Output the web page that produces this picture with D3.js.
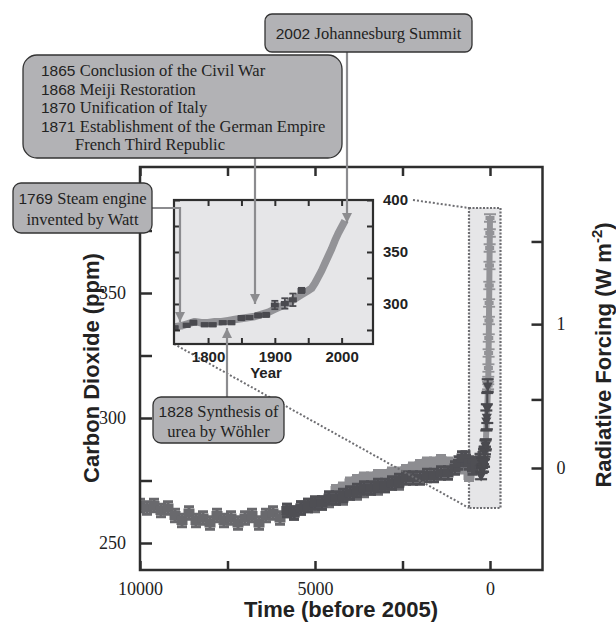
<!DOCTYPE html>
<html>
<head>
<meta charset="utf-8">
<script src="https://cdn.jsdelivr.net/npm/d3@7"></script>
<style>
  body { margin: 0; background: #fff; }
  text { fill: #222; }
</style>
</head>
<body>
<div id="chart"></div>
<script>
// ---- data ----
// Ice core record A (years before 2005, ppm)
const coreAYears = [10000, 9800, 9600, 9400, 9200, 9000, 8800, 8600, 8400, 8200, 8000, 7800, 7600, 7400, 7200, 7000,
  6800, 6600, 6400, 6200, 6000, 5800, 5600, 5400, 5200, 5000, 4800, 4600, 4400, 4200, 4000, 3800, 3600, 3400, 3200, 3000, 2800, 2600];
const coreACO2 = [265, 264, 265, 263, 264, 261, 259, 262, 259, 260, 258, 261, 259, 260, 258, 260,
  261, 258, 261, 262, 260, 263, 262, 264, 265, 265, 266, 267, 268, 268, 270, 270, 271, 272, 272, 273, 274, 274];
// Ice core record B (darker)
const coreBYears = [5800, 5600, 5400, 5200, 5000, 4800, 4600, 4400, 4200, 4000, 3800, 3600, 3400, 3200, 3000, 2800, 2600,
  2400, 2200, 2000, 1800, 1600, 1400, 1200, 1000, 900, 800, 700, 600, 500, 400, 300, 200];
const coreBCO2 = [263, 262, 264, 265, 266, 266, 268, 268, 269, 270, 271, 272, 272, 273, 273, 274, 275,
  276, 276, 276, 277, 277, 278, 278, 280, 282, 284, 284, 282, 280, 281, 283, 285];
// Ice core record C (light)
const coreCYears = [4400, 4200, 4000, 3800, 3600, 3400, 3200, 3000, 2800, 2600, 2400, 2200, 2000, 1800, 1600, 1400, 1200, 1000, 800, 600];
const coreCCO2 = [271, 272, 274, 275, 276, 276, 277, 277, 278, 278, 279, 280, 281, 282, 282, 283, 282, 281, 280, 277];

// Recent record, calendar years (light band)
const recentYears = [1750, 1760, 1770, 1780, 1790, 1800, 1810, 1820, 1830, 1840, 1850, 1860, 1870, 1880, 1890, 1900,
  1910, 1920, 1930, 1940, 1945, 1950, 1955, 1960, 1965, 1970, 1975, 1980, 1985, 1990, 1995, 2000, 2005];
const recentCO2 = [278, 279, 281, 283, 282, 282, 283, 283, 284, 285, 286, 287, 288, 290, 292, 295,
  298, 301, 305, 309, 311, 313, 315, 320, 326, 332, 339, 346, 353, 361, 368, 374, 380];

// Recent ice core samples with error bars (dark)
const sampleYears = [1750, 1768, 1778, 1795, 1807, 1822, 1835, 1850, 1862, 1875, 1887, 1900, 1915, 1927, 1940];
const sampleCO2 = [277, 279.5, 282, 280, 280, 282, 282, 286.5, 287, 289, 289.5, 299, 300.5, 304, 313];
const sampleErr = [1.5, 1.5, 2, 1.5, 1.5, 1.5, 1.5, 2, 1.5, 2, 2, 4, 5, 6, 2.5];

// Axis ticks
const timeTicks = [10000, 7500, 5000, 2500, 0];
const timeLabels = [10000, 5000, 0];
const co2Ticks = [250, 275, 300, 325, 350, 375];
const co2Labels = [250, 300, 350];
const rfTicks = [0, 0.5, 1, 1.5];
const rfLabels = [0, 1];
const yearTicks = [1800, 1850, 1900, 1950, 2000];
const yearLabels = [1800, 1900, 2000];
const insetTicks = [275, 300, 325, 350, 375, 400];
const insetLabels = [300, 350, 400];

// Events
const eventBig = [["1865", "Conclusion of the Civil War"], ["1868", "Meiji Restoration"], ["1870", "Unification of Italy"],
  ["1871", "Establishment of the German Empire"], ["", "French Third Republic"]];

const REF_YEAR = 2005;
const C0 = 280;
const rfToCO2 = rf => C0 * Math.exp(rf / 5.35);

// ---- layout ----
const W = 616, H = 624;
const SERIF = "'Liberation Serif', 'Times New Roman', serif";
const SANS = "'Liberation Sans', Arial, sans-serif";
const INK = "#2e2e2e";
const ARROW = "#8c8c8f";

const svg = d3.select("#chart").append("svg")
  .attr("width", W).attr("height", H);

const defs = svg.append("defs");
defs.append("marker")
  .attr("id", "head")
  .attr("viewBox", "0 0 10 10")
  .attr("refX", 10).attr("refY", 5)
  .attr("markerWidth", 10).attr("markerHeight", 10)
  .attr("markerUnits", "userSpaceOnUse")
  .attr("orient", "auto")
  .append("path")
  .attr("d", "M0,0 L10,5 L0,10 Z")
  .attr("fill", ARROW);

const plot = { left: 140, right: 542.5, top: 167, bottom: 570 };
defs.append("clipPath").attr("id", "mainClip").append("rect")
  .attr("x", plot.left).attr("y", plot.top)
  .attr("width", plot.right - plot.left).attr("height", plot.bottom - plot.top);

const x = d3.scaleLinear().domain([10000, -1500]).range([plot.left, plot.right]);
const y = d3.scaleLinear().domain([239.2, 400.4]).range([plot.bottom, plot.top]);

// error-bar marks
function errorMarks(g, pts, o) {
  const grp = g.append("g").attr("stroke", o.color).attr("fill", o.color);
  const p = grp.selectAll("g").data(pts).join("g")
    .attr("transform", d => `translate(${o.x(d.t)},0)`);
  p.append("line")
    .attr("y1", d => o.y(d.c - d.e)).attr("y2", d => o.y(d.c + d.e))
    .attr("stroke-width", o.sw);
  [-1, 1].forEach(s => {
    p.append("line")
      .attr("x1", -o.cap / 2).attr("x2", o.cap / 2)
      .attr("y1", d => o.y(d.c + s * d.e)).attr("y2", d => o.y(d.c + s * d.e))
      .attr("stroke-width", o.sw);
  });
  if (o.shape === "tri") {
    p.append("path")
      .attr("transform", d => `translate(0,${o.y(d.c)}) rotate(180)`)
      .attr("d", d3.symbol(d3.symbolTriangle, o.size))
      .attr("stroke", "none");
  } else {
    p.append("rect")
      .attr("x", -o.w / 2).attr("width", o.w)
      .attr("y", d => o.y(d.c) - o.h / 2).attr("height", o.h)
      .attr("stroke", "none");
  }
}

const zip = (ts, cs, e) => ts.map((t, i) => ({ t, c: cs[i], e: Array.isArray(e) ? e[i] : e }));

// ---- zoom box in main plot ----
const box = { t0: 600, t1: -300, c0: 264, c1: 384 };
svg.append("rect")
  .attr("x", x(box.t0)).attr("y", y(box.c1))
  .attr("width", x(box.t1) - x(box.t0)).attr("height", y(box.c0) - y(box.c1))
  .attr("fill", "#e6e6e8")
  .attr("stroke", "#6e6e72").attr("stroke-width", 2.2)
  .attr("stroke-dasharray", "2,1.5");

// ---- main data ----
const main = svg.append("g").attr("clip-path", "url(#mainClip)");
const mainOpts = { x, y, sw: 3, cap: 10, w: 11, h: 9 };
errorMarks(main, zip(coreAYears, coreACO2, 2.5), { ...mainOpts, color: "#69696d" });
errorMarks(main, zip(coreCYears, coreCCO2, 2), { ...mainOpts, color: "#8d8d91" });
errorMarks(main, zip(coreBYears, coreBCO2, 2.5), { ...mainOpts, color: "#4f4f54" });

const recentT = recentYears.map(yr => REF_YEAR - yr);
main.append("path")
  .datum(zip(recentT, recentCO2, 0))
  .attr("d", d3.line().x(d => x(d.t)).y(d => y(d.c)))
  .attr("fill", "none").attr("stroke", "#939397").attr("stroke-width", 6)
  .attr("stroke-linejoin", "round");
errorMarks(main, zip(recentT, recentCO2, 1.5).filter(d => d.t <= 55),
  { ...mainOpts, color: "#939397", cap: 12, w: 9, h: 4, sw: 1.8 });
errorMarks(main, zip(sampleYears.map(yr => REF_YEAR - yr), sampleCO2, sampleErr),
  { ...mainOpts, color: "#4a4a4f", cap: 12, sw: 2.2, shape: "tri", size: 45 });

// ---- main frame and axes ----
svg.append("rect")
  .attr("x", plot.left).attr("y", plot.top)
  .attr("width", plot.right - plot.left).attr("height", plot.bottom - plot.top)
  .attr("fill", "none").attr("stroke", INK).attr("stroke-width", 2.5);

function styleAxis(g, font, size, weight) {
  g.select(".domain").remove();
  g.selectAll(".tick line").attr("stroke", INK).attr("stroke-width", 2.5);
  g.selectAll(".tick text").attr("font-family", font).attr("font-size", size)
    .attr("font-weight", weight || "normal").attr("fill", "#222");
}

svg.append("g").attr("transform", `translate(0,${plot.bottom})`)
  .call(d3.axisBottom(x).tickValues(timeTicks).tickSize(-9).tickPadding(12)
    .tickFormat(d => timeLabels.includes(d) ? d : ""))
  .call(g => styleAxis(g, SERIF, 18));
svg.append("g").attr("transform", `translate(0,${plot.top})`)
  .call(d3.axisTop(x).tickValues(timeTicks).tickSize(-9).tickFormat(""))
  .call(g => styleAxis(g, SERIF, 18));
svg.append("g").attr("transform", `translate(${plot.left},0)`)
  .call(d3.axisLeft(y).tickValues(co2Ticks).tickSize(-12).tickPadding(14)
    .tickFormat(d => co2Labels.includes(d) ? d : ""))
  .call(g => styleAxis(g, SERIF, 18));
svg.append("g").attr("transform", `translate(${plot.right},0)`)
  .call(d3.axisRight(y).tickValues(rfTicks.map(rfToCO2)).tickSize(-11).tickPadding(14)
    .tickFormat((d, i) => rfLabels.includes(rfTicks[i]) ? rfTicks[i] : ""))
  .call(g => styleAxis(g, SERIF, 18));

svg.append("text")
  .attr("x", 341).attr("y", 617)
  .attr("text-anchor", "middle")
  .attr("font-family", SANS).attr("font-weight", "bold").attr("font-size", 22)
  .text("Time (before 2005)");
svg.append("text")
  .attr("transform", "translate(99,368) rotate(-90)")
  .attr("text-anchor", "middle")
  .attr("font-family", SANS).attr("font-weight", "bold").attr("font-size", 22)
  .text("Carbon Dioxide (ppm)");
const rfTitle = svg.append("text")
  .attr("transform", "translate(611,355) rotate(-90)")
  .attr("text-anchor", "middle")
  .attr("font-family", SANS).attr("font-weight", "bold").attr("font-size", 22);
rfTitle.append("tspan").text("Radiative Forcing (W m");
rfTitle.append("tspan").attr("font-size", 15).attr("dy", -9).text("-2");
rfTitle.append("tspan").attr("dy", 9).text(")");

// ---- inset ----
const inset = { left: 174, right: 373, top: 200, bottom: 344 };
const xi = d3.scaleLinear().domain([1749, 2047]).range([inset.left, inset.right]);
const yi = d3.scaleLinear().domain([261.5, 400]).range([inset.bottom, inset.top]);

// dotted lines linking the zoom box to the inset
const dotted = svg.append("g").attr("stroke", "#6e6e72").attr("stroke-width", 2)
  .attr("stroke-dasharray", "2,2");
dotted.append("line")
  .attr("x1", 413).attr("y1", inset.top)
  .attr("x2", x(box.t0)).attr("y2", y(box.c1));
dotted.append("line")
  .attr("x1", inset.left).attr("y1", inset.bottom)
  .attr("x2", x(box.t0)).attr("y2", y(box.c0));

defs.append("clipPath").attr("id", "insetClip").append("rect")
  .attr("x", inset.left).attr("y", inset.top)
  .attr("width", inset.right - inset.left).attr("height", inset.bottom - inset.top);

svg.append("rect")
  .attr("x", inset.left).attr("y", inset.top)
  .attr("width", inset.right - inset.left).attr("height", inset.bottom - inset.top)
  .attr("fill", "#e6e6e8");

const ig = svg.append("g").attr("clip-path", "url(#insetClip)");
ig.append("path")
  .datum(zip(recentYears, recentCO2, 0))
  .attr("d", d3.line().x(d => xi(d.t)).y(d => yi(d.c)))
  .attr("fill", "none").attr("stroke", "#939397").attr("stroke-width", 7.5)
  .attr("stroke-linejoin", "round");
errorMarks(ig, zip(sampleYears, sampleCO2, sampleErr),
  { x: xi, y: yi, color: "#4a4a4f", sw: 1.8, cap: 7, w: 8, h: 5 });

svg.append("rect")
  .attr("x", inset.left).attr("y", inset.top)
  .attr("width", inset.right - inset.left).attr("height", inset.bottom - inset.top)
  .attr("fill", "none").attr("stroke", INK).attr("stroke-width", 2.2);

function styleInset(g) {
  g.select(".domain").remove();
  g.selectAll(".tick line").attr("stroke", INK).attr("stroke-width", 2);
  g.selectAll(".tick text").attr("font-family", SANS).attr("font-weight", "bold")
    .attr("font-size", 15).attr("fill", "#222");
}
svg.append("g").attr("transform", `translate(0,${inset.bottom})`)
  .call(d3.axisBottom(xi).tickValues(yearTicks).tickSize(-6).tickPadding(7)
    .tickFormat(d => yearLabels.includes(d) ? d : ""))
  .call(styleInset);
svg.append("g").attr("transform", `translate(0,${inset.top})`)
  .call(d3.axisTop(xi).tickValues(yearTicks).tickSize(-6).tickFormat(""))
  .call(styleInset);
svg.append("g").attr("transform", `translate(${inset.right},0)`)
  .call(d3.axisRight(yi).tickValues(insetTicks).tickSize(-6).tickPadding(10)
    .tickFormat(d => insetLabels.includes(d) ? d : ""))
  .call(styleInset);
svg.append("g").attr("transform", `translate(${inset.left},0)`)
  .call(d3.axisLeft(yi).tickValues(insetTicks).tickSize(-6).tickFormat(""))
  .call(styleInset);
svg.append("text")
  .attr("x", 266).attr("y", 378)
  .attr("text-anchor", "middle")
  .attr("font-family", SANS).attr("font-weight", "bold").attr("font-size", 15)
  .text("Year");

// ---- callouts ----
const callouts = svg.append("g");
function calloutBox(bx, by, bw, bh, r) {
  callouts.append("rect")
    .attr("x", bx).attr("y", by).attr("width", bw).attr("height", bh)
    .attr("rx", r).attr("ry", r)
    .attr("fill", "#b2b2b5").attr("stroke", "#333").attr("stroke-width", 1.3);
}
function eventLine(tx, ty, year, label, anchor) {
  const t = callouts.append("text")
    .attr("x", tx).attr("y", ty)
    .attr("text-anchor", anchor || "start")
    .attr("font-family", SERIF).attr("font-size", 16.5).attr("fill", "#222");
  if (year) t.append("tspan").attr("font-family", SANS).attr("font-size", 15.5).text(year + " ");
  t.append("tspan").text(label);
}
function arrow(d) {
  callouts.append("path")
    .attr("d", d)
    .attr("fill", "none").attr("stroke", ARROW).attr("stroke-width", 2.2)
    .attr("marker-end", "url(#head)");
}

// 2002 Johannesburg Summit
arrow("M347,52 V223");
calloutBox(265, 14, 207, 38, 7);
eventLine(368.5, 39, "2002", "Johannesburg Summit", "middle");

// 1860s-70s events
arrow("M255,158 V304");
calloutBox(23, 55, 319, 103, 14);
eventBig.forEach((ev, i) => {
  eventLine(ev[0] ? 41 : 75, 76 + i * 18.6, ev[0], ev[1]);
});

// 1769 Watt
arrow("M152,208 H180 V322");
calloutBox(13, 183, 139, 50, 8);
eventLine(82.5, 204, "1769", "Steam engine", "middle");
eventLine(82.5, 225, "", "invented by Watt", "middle");

// 1828 Wöhler
arrow("M227,397 V328");
calloutBox(153, 397, 131, 46, 8);
eventLine(218.5, 417, "1828", "Synthesis of", "middle");
eventLine(218.5, 437, "", "urea by Wöhler", "middle");
</script>
</body>
</html>
